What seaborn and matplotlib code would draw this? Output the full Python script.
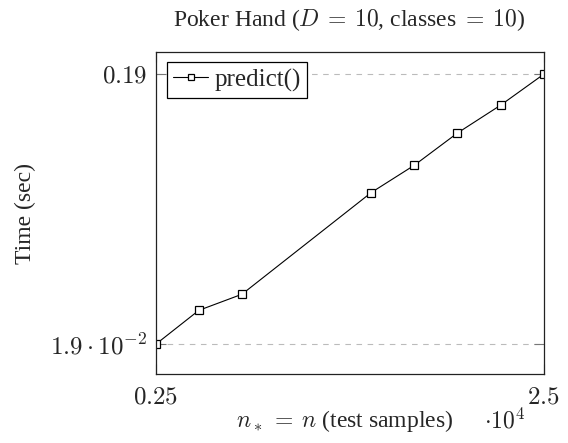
import matplotlib
matplotlib.use("Agg")
import matplotlib.pyplot as plt
import seaborn as sns
import pandas as pd

# Prediction time of predict() against the number of test samples
n_samples = [2500, 5000, 7500, 15000, 17500, 20000, 22500, 25000]
time_sec = [0.019, 0.0405, 0.0507, 0.1151, 0.1324, 0.1528, 0.1704, 0.19]
series_name = "predict()"

x_ticks = [2500, 25000]
x_tick_labels = [r"$0.25$", r"$2.5$"]
y_ticks = [0.019, 0.19]
y_tick_labels = [r"$1.9\cdot10^{-2}$", r"$0.19$"]

sns.set_theme(style="white")
plt.rcParams["font.family"] = ["Liberation Serif", "DejaVu Serif"]
plt.rcParams["mathtext.fontset"] = "cm"

df = pd.DataFrame({"n": n_samples, "t": time_sec, "series": series_name})

W, H = 568, 443
fig = plt.figure(figsize=(W / 100, H / 100), dpi=100)
ax = fig.add_axes([155.7 / W, 1 - 373.7 / H, (543.7 - 155.7) / W, (373.7 - 52.3) / H])

sns.lineplot(
    data=df, x="n", y="t", hue="series", palette=["black"], ax=ax,
    marker="s", markersize=6.2, markerfacecolor="white", markeredgecolor="black",
    markeredgewidth=0.9, linewidth=0.8,
)

ax.set_xlim(2500, 25000)
ax.set_ylim(0.0004, 0.2039)

ax.set_xticks(x_ticks)
ax.set_xticklabels(x_tick_labels, fontsize=18)
ax.set_yticks(y_ticks)
ax.set_yticklabels(y_tick_labels, fontsize=18)
ax.tick_params(axis="both", direction="in", length=7, width=0.8, color="#777777",
               left=True, right=True, bottom=True, top=True)
ax.tick_params(axis="x", pad=9)
ax.tick_params(axis="y", pad=6)

ax.yaxis.grid(True, color="#bbbbbb", linestyle=(0, (5, 5)), linewidth=0.8)
ax.xaxis.grid(False)
for side in ax.spines.values():
    side.set_color("#222222")
    side.set_linewidth(0.9)

ax.set_xlabel("")
ax.set_ylabel("")

fig.text(349.5 / W, 1 - 20 / H, r"Poker Hand ($D\:=\:10$, classes $=\:10$)",
         ha="center", va="center", fontsize=17)
fig.text(25 / W, 1 - 213 / H, "Time (sec)", rotation=90,
         ha="center", va="center", fontsize=17)
fig.text(345 / W, 1 - 421 / H, r"$n_*\:=\:n$ (test samples)",
         ha="center", va="center", fontsize=17)
fig.text(505 / W, 1 - 421 / H, r"$\cdot 10^{4}$",
         ha="center", va="center", fontsize=17)

leg = ax.legend(loc="upper left", bbox_to_anchor=(11.5 / 388, 1 - 10 / 321.4),
                fontsize=18, frameon=True, fancybox=False, handlelength=1.4,
                handletextpad=0.25, borderpad=0.25, borderaxespad=0.0,
                markerscale=0.8)
leg.get_frame().set_edgecolor("black")
leg.get_frame().set_linewidth(0.9)
leg.get_frame().set_alpha(1.0)

fig.savefig("out.png", dpi=100)
